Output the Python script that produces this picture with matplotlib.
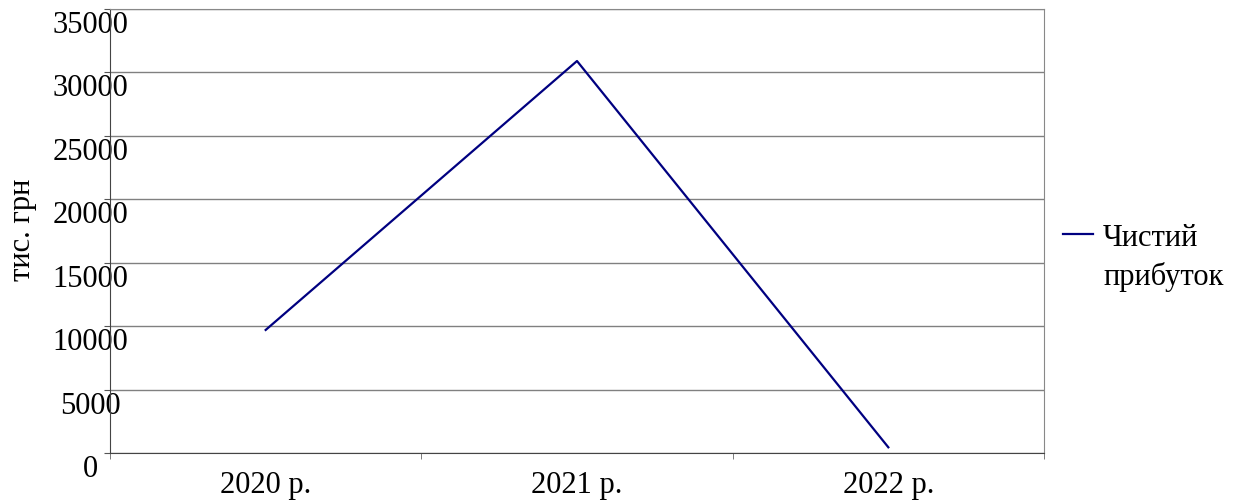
import matplotlib
matplotlib.use("Agg")
import matplotlib.pyplot as plt
import matplotlib.transforms as mtransforms

categories = ["2020 р.", "2021 р.", "2022 р."]
net_profit = [9700, 30900, 450]
series_label = "Чистий\nприбуток"
y_label = "тис. грн"
y_ticks = [0, 5000, 10000, 15000, 20000, 25000, 30000, 35000]

plt.rcParams['font.family'] = ['Liberation Serif', 'DejaVu Serif']
plt.rcParams['font.size'] = 22

fig = plt.figure(figsize=(12.46, 5.02), dpi=100)
ax = fig.add_axes([110/1246, 48/502, (1044-110)/1246, (454-10)/502])

x = list(range(len(categories)))
ax.plot(x, net_profit, color='#000080', lw=1.6, label=series_label)

ax.set_xlim(-0.5, len(categories) - 0.5)
ax.set_ylim(0, 35000)
ax.set_yticks(y_ticks)
ax.set_yticklabels([str(v) for v in y_ticks])
ax.yaxis.grid(True, color='#808080', lw=1.0)
ax.set_axisbelow(True)

ax.set_xticks(x)
ax.set_xticklabels(categories)
ax.set_xticks([i - 0.5 for i in range(len(categories) + 1)], minor=True)
ax.tick_params(axis='x', which='major', length=0, pad=12)
ax.tick_params(axis='x', which='minor', length=4.3, color='#666666')
ax.tick_params(axis='y', length=4.3, color='#555555', pad=10)
for lab in ax.get_yticklabels():
    lab.set_ha('center')
    lab.set_transform(lab.get_transform() + mtransforms.ScaledTranslation(0, -0.12, fig.dpi_scale_trans))

for s in ['left', 'bottom']:
    ax.spines[s].set_color('#444444')
for s in ['top', 'right']:
    ax.spines[s].set_color('#888888')

ax.set_ylabel(y_label)
ax.yaxis.set_label_coords(-0.078, 0.505)

leg = ax.legend(loc='center left', bbox_to_anchor=(1063/1246, 1 - 258/502), bbox_transform=fig.transFigure,
                frameon=False, handlelength=0.98, handletextpad=0.33, borderpad=0, borderaxespad=0)
for t in leg.get_texts():
    t.set_linespacing(1.35)
for col in leg._legend_handle_box.get_children():
    for item in col.get_children():
        item.align = 'top'

fig.savefig("out.png", dpi=100)
